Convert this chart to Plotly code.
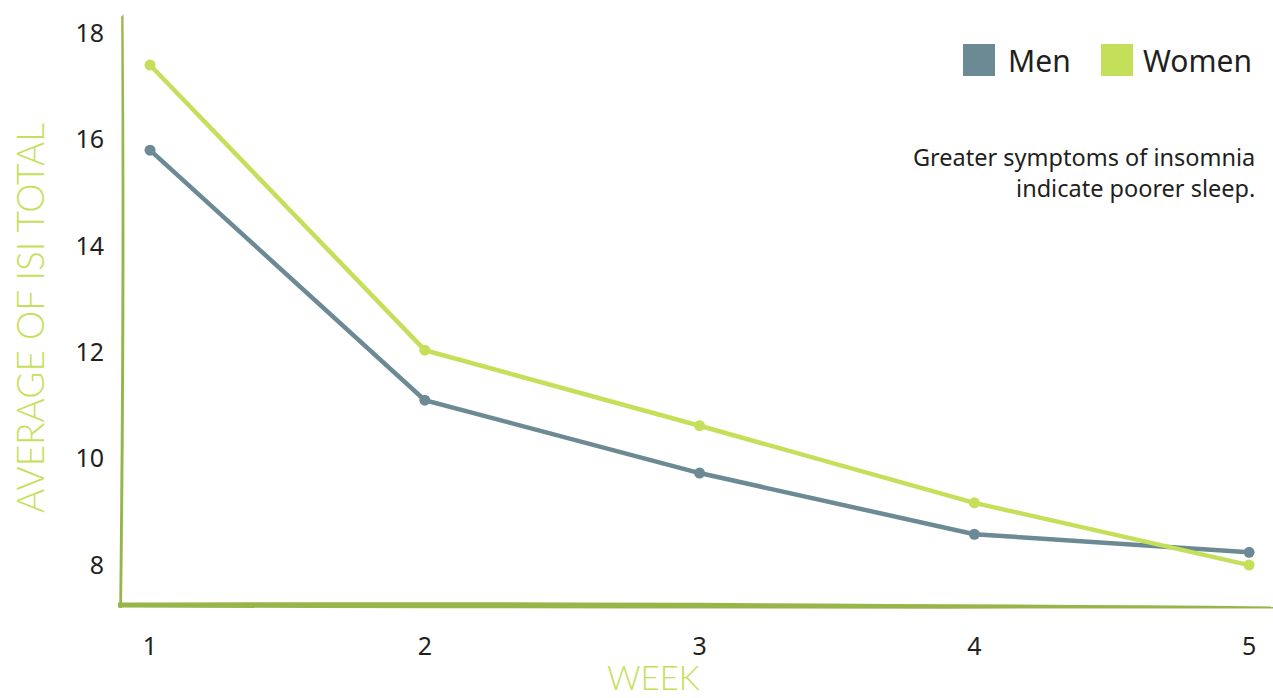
import plotly.graph_objects as go

# Average ISI total by week
weeks = [1, 2, 3, 4, 5]
men = [15.8, 11.1, 9.73, 8.58, 8.24]
women = [17.4, 12.04, 10.62, 9.17, 8.0]
y_ticks = [8, 10, 12, 14, 16, 18]

MEN_COLOR = "#6b8a94"
WOMEN_COLOR = "#c4df5a"
AXIS_GREEN = "#97b64a"
TEXT = "#231f20"
FONT = "Noto Sans"

fig = go.Figure()
fig.add_trace(go.Scatter(
    x=weeks, y=men, name="Men", mode="lines+markers",
    line=dict(color=MEN_COLOR, width=4.5),
    marker=dict(color=MEN_COLOR, size=11),
))
fig.add_trace(go.Scatter(
    x=weeks, y=women, name="Women", mode="lines+markers",
    line=dict(color=WOMEN_COLOR, width=4.5),
    marker=dict(color=WOMEN_COLOR, size=11),
))

W, H = 1273, 698
L, R, T, B = 122, 0, 15, 93
pw, ph = W - L - R, H - T - B


def px(x):
    return (x - L) / pw


def py(y):
    return 1 - (y - T) / ph


# hand-drawn looking axes
shapes = [
    dict(type="path", xref="paper", yref="paper", layer="above",
         path=(f"M {px(123.5)} {py(14)} Q {px(126)} {py(300)} {px(122)} {py(608)} "
               f"L {px(119.2)} {py(608)} Q {px(122.6)} {py(300)} {px(121.2)} {py(17)} Z"),
         fillcolor=AXIS_GREEN, line=dict(width=0)),
    dict(type="path", xref="paper", yref="paper", layer="above",
         path=(f"M {px(118)} {py(602.5)} Q {px(600)} {py(601)} {px(1273)} {py(606.5)} "
               f"L {px(1273)} {py(608.5)} Q {px(600)} {py(609)} {px(118)} {py(607.5)} Z"),
         fillcolor=AXIS_GREEN, line=dict(width=0)),
    # legend swatches
    dict(type="rect", xref="paper", yref="paper",
         x0=px(963), x1=px(995), y0=py(76), y1=py(44),
         fillcolor=MEN_COLOR, line=dict(width=0)),
    dict(type="rect", xref="paper", yref="paper",
         x0=px(1101), x1=px(1133), y0=py(76), y1=py(44),
         fillcolor=WOMEN_COLOR, line=dict(width=0)),
]

annotations = [
    dict(text="Men", xref="paper", yref="paper", x=px(1006), y=py(61),
         xanchor="left", yanchor="middle", showarrow=False,
         font=dict(family=FONT, size=30, color=TEXT)),
    dict(text="Women", xref="paper", yref="paper", x=px(1141), y=py(61),
         xanchor="left", yanchor="middle", showarrow=False,
         font=dict(family=FONT, size=30, color=TEXT)),
    dict(text="Greater symptoms of insomnia<br>indicate poorer sleep.",
         xref="paper", yref="paper", x=px(1257), y=py(172),
         xanchor="right", yanchor="middle", align="right", showarrow=False,
         font=dict(family=FONT, size=23.5, color=TEXT)),
    dict(text="AVERAGE OF ISI TOTAL", xref="paper", yref="paper",
         x=px(29), y=py(318), textangle=-90, xanchor="center", yanchor="middle",
         showarrow=False,
         font=dict(family="Lato", size=37, color=WOMEN_COLOR, weight=300)),
    dict(text="WEEK", xref="paper", yref="paper", x=px(653), y=py(677),
         xanchor="center", yanchor="middle", showarrow=False,
         font=dict(family="Lato", size=33, color=WOMEN_COLOR, weight=300)),
]

fig.update_layout(
    width=W, height=H,
    margin=dict(l=L, r=R, t=T, b=B, pad=0),
    paper_bgcolor="white", plot_bgcolor="white",
    showlegend=False,
    shapes=shapes,
    annotations=annotations,
    xaxis=dict(
        range=[0.898, 5.087], tickvals=weeks, ticktext=[str(w) for w in weeks],
        showgrid=False, zeroline=False, showline=False, ticks="",
        ticklabelstandoff=24,
        tickfont=dict(family=FONT, size=25, color=TEXT),
    ),
    yaxis=dict(
        range=[7.25, 18.34], tickvals=y_ticks,
        showgrid=False, zeroline=False, showline=False, ticks="",
        ticklabelstandoff=17,
        tickfont=dict(family=FONT, size=25, color=TEXT),
    ),
)

fig.write_html("out.html")
